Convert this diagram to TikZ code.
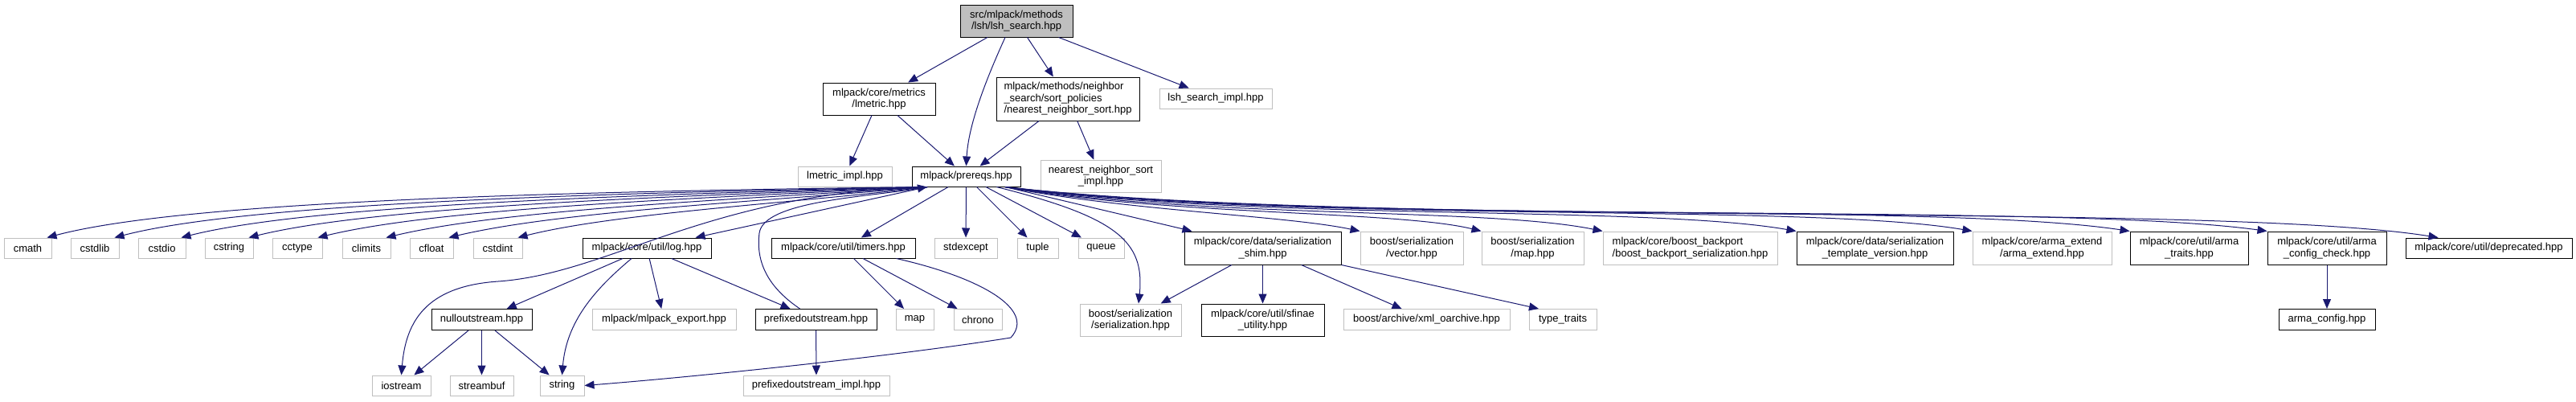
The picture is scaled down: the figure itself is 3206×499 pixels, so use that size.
\documentclass[tikz,border=0pt]{standalone}
\usepackage{fontspec}
\setmainfont{Liberation Sans}
\usetikzlibrary{arrows.meta}
\definecolor{edgeblue}{RGB}{25,25,112}
\definecolor{grey75}{RGB}{191,191,191}
\tikzset{
  box/.style={draw, line width=1pt, inner sep=0pt, align=center, font=\fontsize{13}{14.5}\selectfont},
  doc/.style={box, draw=black},
  ext/.style={box, draw=grey75},
  inc/.style={draw=edgeblue, line width=1pt, -{Triangle[length=12pt,width=10pt]}}
}
\begin{document}
\begin{tikzpicture}[x=1pt,y=-1pt]
\useasboundingbox (0,0) rectangle (3206,499);
% top rows
\node[doc, fill=grey75, minimum width=140pt, minimum height=40pt] (root) at (1265,26) {src/mlpack/methods\\/lsh/lsh\_search.hpp};
\node[doc, minimum width=140pt, minimum height=40pt] (lmetric) at (1094,123) {mlpack/core/metrics\\/lmetric.hpp};
\node[doc, align=left, minimum width=178pt, minimum height=54pt] (nns) at (1329,123) {mlpack/methods/neighbor\\\_search/sort\_policies\\/nearest\_neighbor\_sort.hpp};
\node[ext, minimum width=140pt, minimum height=25pt] (lshimpl) at (1513,122.5) {lsh\_search\_impl.hpp};
\node[ext, minimum width=117pt, minimum height=25pt] (lmetricimpl) at (1051.5,219.5) {lmetric\_impl.hpp};
\node[doc, minimum width=135pt, minimum height=25pt] (prereqs) at (1202.5,219.5) {mlpack/prereqs.hpp};
\node[ext, minimum width=150pt, minimum height=40pt] (nnsimpl) at (1370,219) {nearest\_neighbor\_sort\\\_impl.hpp};
% third row
\node[ext, minimum width=59pt, minimum height=25pt] (cmath) at (34.5,308.5) {cmath};
\node[ext, minimum width=60pt, minimum height=25pt] (cstdlib) at (118,308.5) {cstdlib};
\node[ext, minimum width=59pt, minimum height=25pt] (cstdio) at (201.5,308.5) {cstdio};
\node[ext, minimum width=60pt, minimum height=25pt] (cstring) at (285,308.5) {cstring};
\node[ext, minimum width=62pt, minimum height=25pt] (cctype) at (370,308.5) {cctype};
\node[ext, minimum width=60pt, minimum height=25pt] (climits) at (456,308.5) {climits};
\node[ext, minimum width=54pt, minimum height=25pt] (cfloat) at (537,308.5) {cfloat};
\node[ext, minimum width=61pt, minimum height=25pt] (cstdint) at (619.5,308.5) {cstdint};
\node[doc, minimum width=160pt, minimum height=25pt] (log) at (805,308.5) {mlpack/core/util/log.hpp};
\node[doc, minimum width=179pt, minimum height=25pt] (timers) at (1049.5,308.5) {mlpack/core/util/timers.hpp};
\node[ext, minimum width=78pt, minimum height=25pt] (stdexcept) at (1202,308.5) {stdexcept};
\node[ext, minimum width=51pt, minimum height=25pt] (tuple) at (1291.5,308.5) {tuple};
\node[ext, minimum width=57pt, minimum height=25pt] (queue) at (1370.5,308.5) {queue};
\node[doc, minimum width=195pt, minimum height=41pt] (shim) at (1571.5,308.5) {mlpack/core/data/serialization\\\_shim.hpp};
\node[ext, minimum width=128pt, minimum height=41pt] (bsvector) at (1757,308.5) {boost/serialization\\/vector.hpp};
\node[ext, minimum width=127pt, minimum height=41pt] (bsmap) at (1907.5,308.5) {boost/serialization\\/map.hpp};
\node[ext, align=left, minimum width=217pt, minimum height=41pt] (backport) at (2103.5,308.5) {mlpack/core/boost\_backport\\/boost\_backport\_serialization.hpp};
\node[doc, minimum width=195pt, minimum height=41pt] (tmplversion) at (2333.5,308.5) {mlpack/core/data/serialization\\\_template\_version.hpp};
\node[ext, minimum width=173pt, minimum height=41pt] (armaextend) at (2541.5,308.5) {mlpack/core/arma\_extend\\/arma\_extend.hpp};
\node[doc, minimum width=147pt, minimum height=41pt] (armatraits) at (2724.5,308.5) {mlpack/core/util/arma\\\_traits.hpp};
\node[doc, minimum width=148pt, minimum height=41pt] (cfgcheck) at (2896,308.5) {mlpack/core/util/arma\\\_config\_check.hpp};
\node[doc, minimum width=207pt, minimum height=25pt] (deprecated) at (3097.5,308.5) {mlpack/core/util/deprecated.hpp};
% fourth row
\node[doc, minimum width=125pt, minimum height=26pt] (nullout) at (599.5,397.5) {nulloutstream.hpp};
\node[ext, minimum width=179pt, minimum height=26pt] (export) at (826.5,397.5) {mlpack/mlpack\_export.hpp};
\node[doc, minimum width=151pt, minimum height=26pt] (prefixed) at (1015.5,397.5) {prefixedoutstream.hpp};
\node[ext, minimum width=47pt, minimum height=26pt] (map) at (1138.5,397.5) {map};
\node[ext, minimum width=60pt, minimum height=26pt] (chrono) at (1217,397.5) {chrono};
\node[ext, minimum width=126pt, minimum height=40pt] (bsserial) at (1407,398) {boost/serialization\\/serialization.hpp};
\node[doc, minimum width=153pt, minimum height=40pt] (sfinae) at (1571.5,398) {mlpack/core/util/sfinae\\\_utility.hpp};
\node[ext, minimum width=207pt, minimum height=26pt] (xmlarchive) at (1775.5,397.5) {boost/archive/xml\_oarchive.hpp};
\node[ext, minimum width=84pt, minimum height=26pt] (typetraits) at (1945,397.5) {type\_traits};
\node[doc, minimum width=120pt, minimum height=26pt] (armaconfig) at (2896,397.5) {arma\_config.hpp};
% bottom row
\node[ext, minimum width=73pt, minimum height=25pt] (iostream) at (499.5,479.5) {iostream};
\node[ext, minimum width=79pt, minimum height=25pt] (streambuf) at (599.5,479.5) {streambuf};
\node[ext, minimum width=55pt, minimum height=25pt] (string) at (699.5,479.5) {string};
\node[ext, minimum width=182pt, minimum height=25pt] (prefimpl) at (1016,479.5) {prefixedoutstream\_impl.hpp};

% includes of the top files
\draw[inc] (root) -- (lmetric);
\draw[inc] ([xshift=-14pt]root.south) .. controls (1222,110) and (1205,160) .. (prereqs.north);
\draw[inc] (root) -- (nns);
\draw[inc] (root) -- (lshimpl);
\draw[inc] (lmetric) -- (lmetricimpl);
\draw[inc] (lmetric) -- (prereqs);
\draw[inc] (nns) -- (prereqs);
\draw[inc] (nns) -- (nnsimpl);
% prereqs, to the left
\draw[inc] (prereqs.-165) .. controls (700,238) and (230,250) .. ([xshift=-6pt]cmath.north east);
\draw[inc] (prereqs.-165) .. controls (750,240) and (310,252) .. ([xshift=-6pt]cstdlib.north east);
\draw[inc] (prereqs.-165) .. controls (800,242) and (390,254) .. ([xshift=-6pt]cstdio.north east);
\draw[inc] (prereqs.-165) .. controls (840,244) and (470,256) .. ([xshift=-6pt]cstring.north east);
\draw[inc] (prereqs.-165) .. controls (880,246) and (550,258) .. ([xshift=-6pt]cctype.north east);
\draw[inc] (prereqs.-165) .. controls (920,248) and (630,260) .. ([xshift=-6pt]climits.north east);
\draw[inc] (prereqs.-165) .. controls (960,250) and (700,262) .. ([xshift=-6pt]cfloat.north east);
\draw[inc] (prereqs.-165) .. controls (1000,252) and (770,264) .. ([xshift=-6pt]cstdint.north east);
\draw[inc] (prereqs.-165) .. controls (880,240) and (760,340) .. (620,350) .. controls (530,356) and (505,400) .. (iostream.north);
\draw[inc] (prereqs.-165) -- ([xshift=-20pt]log.north east);
\draw[inc] ([xshift=-20pt]prefixed.north) .. controls (960,360) and (940,330) .. (945,290) .. controls (950,250) and (1080,245) .. (prereqs.-165);
% prereqs, below and to the right
\draw[inc] (prereqs) -- (timers);
\draw[inc] (prereqs) -- (stdexcept);
\draw[inc] (prereqs) -- (tuple);
\draw[inc] (prereqs) -- (queue);
\draw[inc] (prereqs.-19) .. controls (1390,270) and (1425,300) .. ([xshift=10pt]bsserial.north);
\draw[inc] (prereqs.-15) -- ([xshift=10pt]shim.north west);
\draw[inc] (prereqs.-15) .. controls (1400,262) and (1600,268) .. (bsvector.north west);
\draw[inc] (prereqs.-15) .. controls (1450,268) and (1740,262) .. (bsmap.north west);
\draw[inc] (prereqs.-15) .. controls (1500,272) and (1850,258) .. (backport.north west);
\draw[inc] (prereqs.-15) .. controls (1550,275) and (2050,255) .. (tmplversion.north west);
\draw[inc] (prereqs.-15) .. controls (1600,278) and (2250,252) .. (armaextend.north west);
\draw[inc] (prereqs.-15) .. controls (1650,280) and (2400,250) .. (armatraits.north west);
\draw[inc] (prereqs.-15) .. controls (1650,282) and (2550,250) .. (cfgcheck.north west);
\draw[inc] (prereqs.-15) .. controls (1700,284) and (2750,250) .. ([xshift=41pt]deprecated.north west);
% util files
\draw[inc] (log) -- (nullout);
\draw[inc] ([xshift=-19pt]log.south) .. controls (740,360) and (705,400) .. (string.north);
\draw[inc] (log) -- (export);
\draw[inc] (log) -- (prefixed);
\draw[inc] (nullout) -- (iostream);
\draw[inc] (nullout) -- (streambuf);
\draw[inc] (nullout) -- (string);
\draw[inc] (prefixed) -- (prefimpl);
\draw[inc] (timers) -- (map);
\draw[inc] (timers) -- (chrono);
\draw[inc] ([xshift=66pt]timers.south) .. controls (1220,345) and (1290,385) .. (1258,420) .. controls (1100,445) and (850,470) .. (string.east);
\draw[inc] (shim) -- (bsserial);
\draw[inc] (shim) -- (sfinae);
\draw[inc] (shim) -- (xmlarchive);
\draw[inc] (shim.south east) -- ([xshift=-30pt]typetraits.north);
\draw[inc] (cfgcheck) -- (armaconfig);
\end{tikzpicture}
\end{document}
